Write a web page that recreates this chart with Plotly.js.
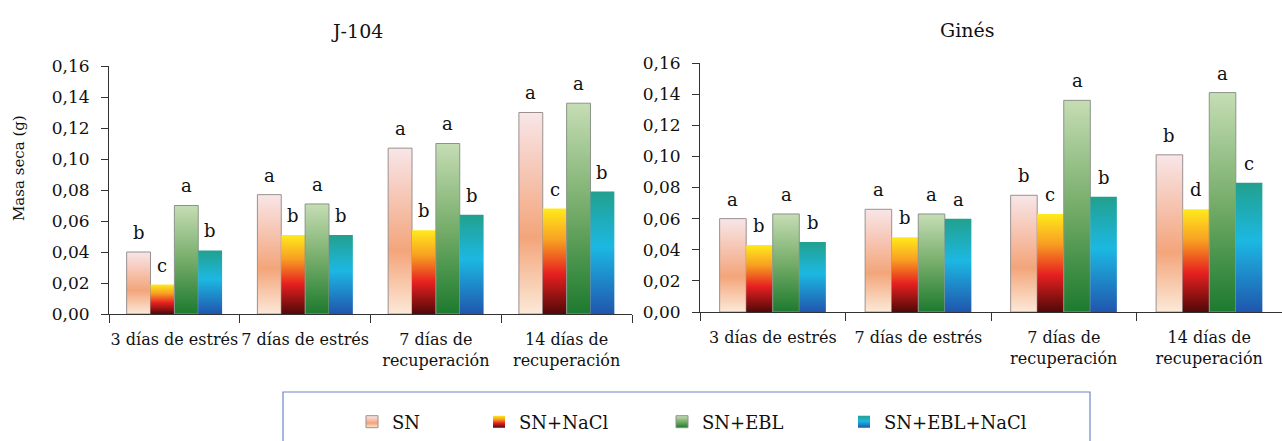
<!DOCTYPE html>
<html>
<head>
<meta charset="utf-8">
<script src="https://cdn.plot.ly/plotly-3.0.1.min.js"></script>
<style>
html,body{margin:0;padding:0;background:#fff;}
#chart{width:1282px;height:441px;}
</style>
</head>
<body>
<div id="chart"></div>
<script>
// ---------- DATA ----------
const categories = ['3 días de estrés', '7 días de estrés', '7 días de<br>recuperación', '14 días de<br>recuperación'];
const seriesNames = ['SN', 'SN+NaCl', 'SN+EBL', 'SN+EBL+NaCl'];
const panelTitles = ['J-104', 'Ginés'];
const yAxisTitle = 'Masa seca (g)';

// J-104
const j104_SN       = [0.040, 0.077, 0.107, 0.130];
const j104_NaCl     = [0.019, 0.051, 0.054, 0.068];
const j104_EBL      = [0.070, 0.071, 0.110, 0.136];
const j104_EBLNaCl  = [0.041, 0.051, 0.064, 0.079];
const j104_letters_SN      = ['b', 'a', 'a', 'a'];
const j104_letters_NaCl    = ['c', 'b', 'b', 'c'];
const j104_letters_EBL     = ['a', 'a', 'a', 'a'];
const j104_letters_EBLNaCl = ['b', 'b', 'b', 'b'];

// Ginés
const gines_SN      = [0.060, 0.066, 0.075, 0.101];
const gines_NaCl    = [0.043, 0.048, 0.063, 0.066];
const gines_EBL     = [0.063, 0.063, 0.136, 0.141];
const gines_EBLNaCl = [0.045, 0.060, 0.074, 0.083];
const gines_letters_SN      = ['a', 'a', 'b', 'b'];
const gines_letters_NaCl    = ['b', 'b', 'c', 'd'];
const gines_letters_EBL     = ['a', 'a', 'a', 'a'];
const gines_letters_EBLNaCl = ['b', 'a', 'b', 'c'];

// ---------- STYLE ----------
const FONT = 'DejaVu Serif';
const W = 1282, H = 441;
const baseColors = ['#f3a67a', '#e8401c', '#74ac68', '#1cb0d8'];
const lineColors = ['#9a9090', 'rgba(0,0,0,0)', '#8a948a', 'rgba(0,0,0,0)'];
const lineWidths = [1, 0, 1, 0];
const gradients = [
  [[0, '#f8e6e8'], [0.3, '#f6c6b4'], [0.62, '#f3a57a'], [1, '#fce9d8']],
  [[0, '#ffea1c'], [0.3, '#f8a022'], [0.62, '#e62020'], [1, '#520808']],
  [[0, '#c6ddb4'], [0.5, '#76ad6a'], [1, '#1c7a2e']],
  [[0, '#22a08e'], [0.45, '#1cb8e2'], [1, '#2056ae']]
];
const BARGAP = 0.27;
const legendCenters = [370, 497, 680, 862];

const panels = [
  {vals: [j104_SN, j104_NaCl, j104_EBL, j104_EBLNaCl],
   letters: [j104_letters_SN, j104_letters_NaCl, j104_letters_EBL, j104_letters_EBLNaCl],
   xa: 'x', ya: 'y'},
  {vals: [gines_SN, gines_NaCl, gines_EBL, gines_EBLNaCl],
   letters: [gines_letters_SN, gines_letters_NaCl, gines_letters_EBL, gines_letters_EBLNaCl],
   xa: 'x2', ya: 'y2'}
];

const traces = [];
const annotations = [];
panels.forEach((p, pi) => {
  seriesNames.forEach((name, si) => {
    traces.push({
      type: 'bar', name: name, x: categories, y: p.vals[si],
      xaxis: p.xa, yaxis: p.ya,
      legend: si === 0 ? 'legend' : 'legend' + (si + 1),
      showlegend: pi === 0,
      marker: {color: baseColors[si], line: {color: lineColors[si], width: lineWidths[si]}},
      hoverinfo: 'skip'
    });
    const gw = 1 - BARGAP, bw = gw / seriesNames.length;
    p.vals[si].forEach((v, ci) => {
      annotations.push({
        xref: p.xa, yref: p.ya, x: ci - gw / 2 + (si + 0.5) * bw, y: v,
        text: p.letters[si][ci], showarrow: false, yanchor: 'bottom', yshift: 7,
        font: {family: FONT, size: 18, color: '#111'}
      });
    });
  });
});

annotations.push({xref: 'paper', yref: 'paper', x: 357 / W, y: 1 - 31 / H, text: panelTitles[0],
  showarrow: false, xanchor: 'center', yanchor: 'middle', font: {family: FONT, size: 19, color: '#111'}});
annotations.push({xref: 'paper', yref: 'paper', x: 967 / W, y: 1 - 30 / H, text: panelTitles[1],
  showarrow: false, xanchor: 'center', yanchor: 'middle', font: {family: FONT, size: 19, color: '#111'}});
annotations.push({xref: 'paper', yref: 'paper', x: 19 / W, y: 1 - 168 / H, text: yAxisTitle, textangle: -90,
  showarrow: false, xanchor: 'center', yanchor: 'middle', font: {family: FONT, size: 15, color: '#111'}});

const xAxisBase = {
  type: 'category', showline: true, linecolor: '#333', linewidth: 1,
  ticks: 'outside', tickson: 'boundaries', ticklen: 8, tickcolor: '#333',
  ticklabelstandoff: 11,
  tickangle: 0, showgrid: false, zeroline: false, fixedrange: true,
  tickfont: {family: FONT, size: 16, color: '#111'}
};
const yAxisBase = {
  range: [0, 0.16], dtick: 0.02, tick0: 0, tickformat: '.2f',
  showline: true, linecolor: '#333', linewidth: 1,
  ticks: 'outside', ticklen: 7, tickcolor: '#333', ticklabelstandoff: 8,
  showgrid: false, zeroline: false, fixedrange: true,
  tickfont: {family: FONT, size: 17, color: '#111'}
};

const legendBase = {
  orientation: 'h', xanchor: 'left', yanchor: 'middle', y: 1 - 422 / H,
  bgcolor: 'rgba(0,0,0,0)', borderwidth: 0,
  font: {family: FONT, size: 18, color: '#111'}
};

const layout = {
  width: W, height: H,
  margin: {l: 0, r: 0, t: 0, b: 0},
  paper_bgcolor: '#fff', plot_bgcolor: 'rgba(0,0,0,0)',
  separators: ',.',
  barmode: 'group', bargap: BARGAP, bargroupgap: 0,
  font: {family: FONT, color: '#111'},
  xaxis: Object.assign({}, xAxisBase, {domain: [109 / W, 632 / W], anchor: 'y'}),
  yaxis: Object.assign({}, yAxisBase, {domain: [1 - 314 / H, 1 - 66 / H], anchor: 'x'}),
  xaxis2: Object.assign({}, xAxisBase, {domain: [700 / W, 1], anchor: 'y2'}),
  yaxis2: Object.assign({}, yAxisBase, {domain: [1 - 312 / H, 1 - 63 / H], anchor: 'x2'}),
  legend: Object.assign({}, legendBase, {x: (legendCenters[0] - 18) / W}),
  legend2: Object.assign({}, legendBase, {x: (legendCenters[1] - 18) / W}),
  legend3: Object.assign({}, legendBase, {x: (legendCenters[2] - 18) / W}),
  legend4: Object.assign({}, legendBase, {x: (legendCenters[3] - 18) / W}),
  annotations: annotations,
  shapes: [{type: 'rect', xref: 'paper', yref: 'paper', x0: 283 / W, x1: 1090 / W, y0: -0.2, y1: 1 - 392 / H,
    line: {color: '#6f86c6', width: 1.2}, fillcolor: 'rgba(0,0,0,0)', layer: 'below'}]
};

function applyGradients(gd) {
  const ns = 'http://www.w3.org/2000/svg';
  gd.querySelectorAll('svg.main-svg').forEach((svg, k) => {
    const defs = document.createElementNS(ns, 'defs');
    gradients.forEach((stops, i) => {
      const lg = document.createElementNS(ns, 'linearGradient');
      lg.setAttribute('id', 'grad' + i + '_' + k);
      lg.setAttribute('x1', '0'); lg.setAttribute('y1', '0');
      lg.setAttribute('x2', '0'); lg.setAttribute('y2', '1');
      stops.forEach(s => {
        const st = document.createElementNS(ns, 'stop');
        st.setAttribute('offset', s[0]);
        st.setAttribute('stop-color', s[1]);
        lg.appendChild(st);
      });
      defs.appendChild(lg);
    });
    svg.insertBefore(defs, svg.firstChild);
  });
  const svgs = Array.from(gd.querySelectorAll('svg.main-svg'));
  const gradFor = (el, i) => {
    const svg = el.ownerSVGElement;
    const k = svgs.indexOf(svg);
    return 'url(#grad' + i + '_' + (k < 0 ? 0 : k) + ')';
  };
  gd.querySelectorAll('g.trace.bars').forEach(g => {
    const d = g.__data__;
    let name = d && d[0] && d[0].trace ? d[0].trace.name : null;
    const i = seriesNames.indexOf(name);
    if (i < 0) return;
    g.querySelectorAll('path').forEach(p => { p.style.fill = gradFor(p, i); });
  });
  gd.querySelectorAll('g.traces').forEach(g => {
    const d = g.__data__;
    let tr = d && d[0] && d[0].trace ? d[0].trace : (d && d[0] && d[0][0] ? d[0][0].trace : null);
    if (!tr) return;
    const i = seriesNames.indexOf(tr.name);
    if (i < 0) return;
    g.querySelectorAll('.legendpoints path').forEach(p => { p.style.fill = gradFor(p, i); });
  });
}

const gd = document.getElementById('chart');
Plotly.newPlot(gd, traces, layout, {displayModeBar: false, staticPlot: true}).then(() => applyGradients(gd));
</script>
</body>
</html>
